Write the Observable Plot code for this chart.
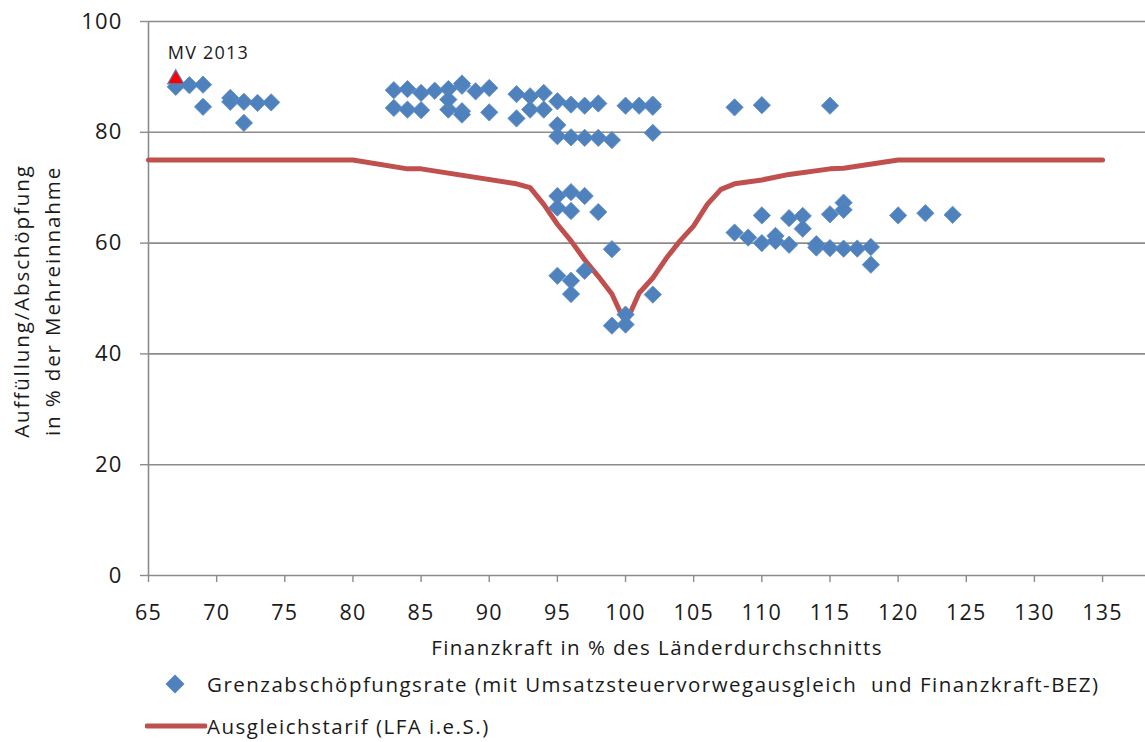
<!DOCTYPE html>
<html>
<head>
<meta charset="utf-8">
<script src="https://cdn.jsdelivr.net/npm/d3@7"></script>
<script src="https://cdn.jsdelivr.net/npm/@observablehq/plot@0.6"></script>
<style>
  html, body { margin: 0; padding: 0; background: #fff; }
  body { width: 1145px; height: 742px; overflow: hidden; font-family: "Open Sans", sans-serif; }
  #chart { position: relative; }
  .legend { position: absolute; left: 0; font-size: 20.5px; color: #1a1a1a; letter-spacing: 1.5px; font-family: "Open Sans", sans-serif; }
  .legend .item { position: absolute; white-space: nowrap; display: flex; align-items: center; }
</style>
</head>
<body>
<div id="chart"></div>
<script>
// Scatter: Grenzabschöpfungsrate (mit Umsatzsteuervorwegausgleich und Finanzkraft-BEZ)
const scatterX = [
  67, 68, 69, 69, 71, 71, 72, 73, 74, 72,
  83, 84, 85, 86, 87, 88, 88, 89, 90,
  83, 84, 85, 87, 87, 88, 88, 90,
  92, 92, 93, 94, 93, 94, 95, 96, 97, 98,
  100, 101, 102, 102, 102,
  95, 95, 96, 97, 98, 99,
  95, 96, 97, 95, 96, 98, 99,
  95, 96, 97, 96, 99, 100, 100, 102,
  108, 110, 115,
  108, 109, 110, 110, 111, 111, 112, 112, 113, 113,
  114, 114, 115, 115, 116, 116, 116, 117, 118, 118,
  120, 122, 124
];
const scatterY = [
  88.2, 88.5, 88.6, 84.6, 86.2, 85.5, 85.5, 85.3, 85.4, 81.7,
  87.6, 87.8, 87.1, 87.5, 87.8, 88.4, 88.8, 87.4, 88.0,
  84.4, 84.1, 84.0, 84.1, 85.9, 83.8, 83.2, 83.6,
  86.9, 82.5, 86.5, 87.1, 84.1, 84.1, 85.6, 85.0, 84.8, 85.2,
  84.8, 84.8, 85.0, 84.6, 79.9,
  81.3, 79.3, 79.1, 79.0, 79.0, 78.6,
  68.5, 69.2, 68.5, 66.4, 65.8, 65.6, 58.9,
  54.1, 53.2, 55.0, 50.8, 45.1, 47.1, 45.3, 50.7,
  84.5, 84.9, 84.8,
  61.9, 61.0, 65.0, 60.0, 61.3, 60.4, 64.5, 59.7, 64.9, 62.6,
  59.2, 59.8, 65.2, 59.1, 67.3, 66.0, 59.0, 59.0, 59.3, 56.1,
  65.0, 65.4, 65.1
];
// Line: Ausgleichstarif (LFA i.e.S.)
const lineX = [65, 80, 84, 85, 92, 93, 94, 95, 96, 97, 98, 99, 100, 101, 102, 103, 104, 105, 106, 107, 108, 110, 112, 115, 116, 120, 135];
const lineY = [75, 75, 73.4, 73.4, 70.7, 70.0, 67.0, 63.4, 60.4, 57.0, 54.0, 50.8, 45.5, 51.0, 53.7, 57.3, 60.4, 63.1, 67.0, 69.7, 70.7, 71.4, 72.4, 73.4, 73.5, 75, 75];
// Highlight point
const highlightX = [67];
const highlightY = [89.6];
const highlightLabel = ["MV 2013"];
// Ticks
const xTicks = [65, 70, 75, 80, 85, 90, 95, 100, 105, 110, 115, 120, 125, 130, 135];
const yTicks = [0, 20, 40, 60, 80, 100];

const scatter = scatterX.map((x, i) => ({x, y: scatterY[i]}));
const line = lineX.map((x, i) => ({x, y: lineY[i]}));
const hl = highlightX.map((x, i) => ({x, y: highlightY[i], label: highlightLabel[i]}));

const blue = "#4F81BD", red = "#C0504D", grid = "#8c8c8c";

const plot = Plot.plot({
  width: 1145,
  height: 660,
  marginLeft: 148,
  marginRight: 0,
  marginTop: 21,
  marginBottom: 85,
  style: {fontFamily: "'Open Sans', sans-serif", background: "#fff", color: "#1a1a1a"},
  x: {domain: [65, 138.15], ticks: xTicks, label: null},
  y: {domain: [0, 100], ticks: yTicks, label: null},
  marks: [
    Plot.ruleY(yTicks, {stroke: grid, strokeWidth: 1.6}),
    Plot.ruleX([65], {stroke: grid, strokeWidth: 1.6}),
    Plot.axisY({ticks: yTicks, tickSize: 8, tickPadding: 18, stroke: grid, strokeWidth: 1.4, fontSize: 22, label: null, tickFormat: d => d, fill: "#1a1a1a"}),
    Plot.axisX({ticks: xTicks, tickSize: 7, tickPadding: 22, stroke: grid, strokeWidth: 1.4, fontSize: 21.5, label: null, tickFormat: d => d, fill: "#1a1a1a"}),
    Plot.line(line, {x: "x", y: "y", stroke: red, strokeWidth: 5, strokeLinejoin: "round"}),
    Plot.dot(scatter, {x: "x", y: "y", symbol: "diamond2", r: 7.8, fill: blue, stroke: "#5b8cc6", strokeWidth: 0.8}),
    Plot.dot(hl, {x: "x", y: "y", symbol: "triangle", r: 6, fill: "#FF0000", stroke: blue, strokeWidth: 1.2}),
    Plot.text(hl, {x: "x", y: "y", text: "label", dx: -8, dy: -26, textAnchor: "start", fontSize: 18, fill: "#1a1a1a"})
  ]
});

const svg = d3.select(plot);
svg.selectAll("[aria-label='x-axis tick label'] text, [aria-label='y-axis tick label'] text").style("letter-spacing", "1.2px");
svg.selectAll("[aria-label='text'] text").style("letter-spacing", "1.2px");
// x-axis title
svg.append("text")
  .attr("x", 657).attr("y", 655)
  .attr("text-anchor", "middle")
  .style("font-size", "20.5px").style("letter-spacing", "1.45px")
  .attr("fill", "#1a1a1a")
  .text("Finanzkraft in % des Länderdurchschnitts");
// y-axis title
const yt = svg.append("text")
  .attr("transform", "translate(37,301) rotate(-90)")
  .attr("text-anchor", "middle")
  .style("font-size", "20.5px").style("letter-spacing", "1.9px")
  .attr("fill", "#1a1a1a");
yt.append("tspan").attr("x", 0).attr("dy", "-0.4em").text("Auffüllung/Abschöpfung");
yt.append("tspan").attr("x", 0).attr("dy", "1.5em").text("in % der Mehreinnahme");

const chart = document.getElementById("chart");
chart.appendChild(plot);

const legend = document.createElement("div");
legend.className = "legend";
legend.style.top = "660px";
legend.innerHTML = `
  <div class="item" style="left:164px; top:10px;">
    <svg width="22" height="22" style="margin-right:21px"><path d="M11 1.5 L20.5 11 L11 20.5 L1.5 11 Z" fill="${blue}"/></svg>
    <span>Grenzabschöpfungsrate (mit Umsatzsteuervorwegausgleich&nbsp; und Finanzkraft-BEZ)</span>
  </div>
  <div class="item" style="left:145px; top:52px;">
    <svg width="62" height="22"><line x1="2" y1="11" x2="60" y2="11" stroke="${red}" stroke-width="5" stroke-linecap="round"/></svg>
    <span>Ausgleichstarif (LFA i.e.S.)</span>
  </div>`;
chart.appendChild(legend);
</script>
</body>
</html>
